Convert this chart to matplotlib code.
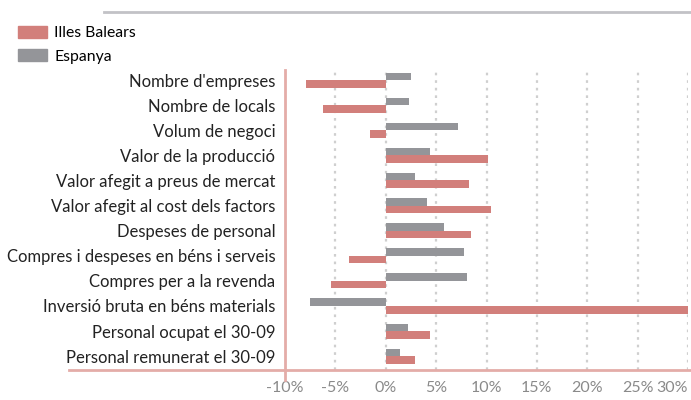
import matplotlib.pyplot as plt
from matplotlib.lines import Line2D
from matplotlib.patches import Patch

# variacio interanual (%)
categories = ["Nombre d'empreses", "Nombre de locals", "Volum de negoci",
              "Valor de la producció", "Valor afegit a preus de mercat",
              "Valor afegit al cost dels factors", "Despeses de personal",
              "Compres i despeses en béns i serveis", "Compres per a la revenda",
              "Inversió bruta en béns materials", "Personal ocupat el 30-09",
              "Personal remunerat el 30-09"]
balears = [-7.9, -6.2, -1.6, 10.1, 8.3, 10.4, 8.5, -3.6, -5.4, 31.0, 4.4, 2.9]
espanya = [2.5, 2.3, 7.2, 4.4, 2.9, 4.1, 5.8, 7.8, 8.1, -7.5, 2.2, 1.4]
xticks = [-10, -5, 0, 5, 10, 15, 20, 25, 30]

red = '#d27f7b'
grey = '#949599'
pink = '#e4aca8'

plt.rcParams['font.family'] = ['Lato', 'DejaVu Sans']

fig = plt.figure(figsize=(6.91, 4.0), dpi=100)
ax = fig.add_axes([285 / 691, 1 - 370 / 400, (688 - 285) / 691, (370 - 70) / 400])

y = list(range(len(categories)))
h = 0.3
ax.barh([i - h / 2 for i in y], espanya, height=h, color=grey, zorder=3)
ax.barh([i + h / 2 for i in y], balears, height=h, color=red, zorder=3)

ax.set_xlim(-10, 30)
ax.set_ylim(11.55, -0.4)
ax.set_xticks(xticks)
ax.set_xticklabels([f'{t}%' for t in xticks], color='#8a8a8a', fontsize=11.5)
ax.get_xticklabels()[-1].set_ha('right')
ax.get_xticklabels()[-1].set_x(30.2)
ax.set_yticks(y)
ax.set_yticklabels(categories, color='#222222', fontsize=12)
ax.tick_params(length=0, axis='y', pad=7)
ax.tick_params(length=0, axis='x', pad=8)
ax.xaxis.grid(True, linestyle=(0, (1.2, 2.2)), color='#cfcfcf', linewidth=1.6, zorder=0)
ax.set_axisbelow(True)
for s in ax.spines.values():
    s.set_visible(False)

# pink axis lines and top separator
fig.add_artist(Line2D([69 / 691, 1], [1 - 370 / 400] * 2, color=pink, lw=2))
fig.add_artist(Line2D([285 / 691] * 2, [1 - 70 / 400, 1 - 380 / 400], color=pink, lw=2))
fig.add_artist(Line2D([104 / 691, 1], [1 - 12 / 400] * 2, color='#c2c2c6', lw=2))

handles = [Patch(color=red, label='Illes Balears'), Patch(color=grey, label='Espanya')]
fig.legend(handles=handles, loc='upper left', bbox_to_anchor=(18 / 691, 1 - 26 / 400),
           frameon=False, fontsize=11.3, handlelength=1.85, handleheight=0.8,
           handletextpad=0.45, labelspacing=0.55, borderaxespad=0, borderpad=0)

fig.savefig('out.png', dpi=100)
